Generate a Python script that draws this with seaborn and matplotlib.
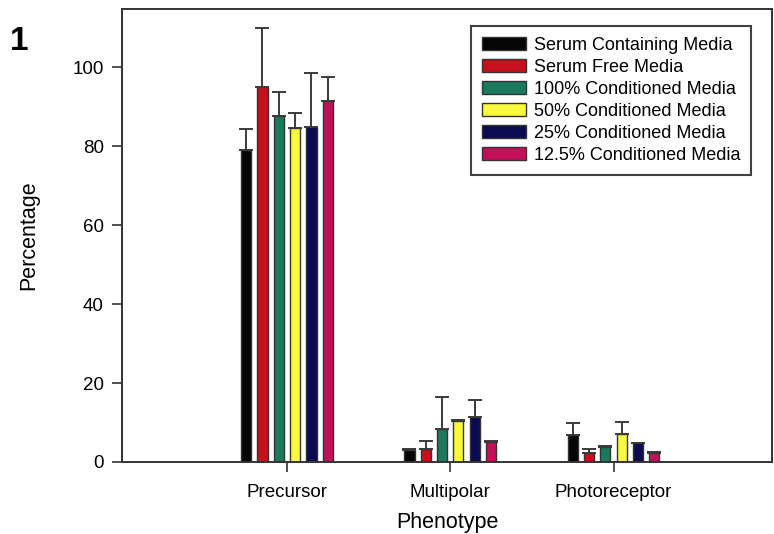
import numpy as np
import pandas as pd
import matplotlib
matplotlib.use("Agg")
import matplotlib.pyplot as plt
import seaborn as sns

phenotypes = ["Precursor", "Multipolar", "Photoreceptor"]
media = [
    "Serum Containing Media",
    "Serum Free Media",
    "100% Conditioned Media",
    "50% Conditioned Media",
    "25% Conditioned Media",
    "12.5% Conditioned Media",
]
# mean percentage per medium, in phenotype order
serum_containing = [79.0, 3.0, 6.8]
serum_free = [95.0, 3.4, 2.4]
cond_100 = [87.5, 8.3, 3.9]
cond_50 = [84.5, 10.3, 7.1]
cond_25 = [84.8, 11.3, 4.7]
cond_12_5 = [91.5, 5.0, 2.3]
# standard deviation (upper error bar)
err_serum_containing = [5.2, 0.3, 3.0]
err_serum_free = [15.0, 1.9, 1.0]
err_cond_100 = [6.1, 8.1, 0.2]
err_cond_50 = [3.8, 0.3, 3.1]
err_cond_25 = [13.7, 4.4, 0.2]
err_cond_12_5 = [6.0, 0.3, 0.2]

means = [serum_containing, serum_free, cond_100, cond_50, cond_25, cond_12_5]
errors = [err_serum_containing, err_serum_free, err_cond_100,
          err_cond_50, err_cond_25, err_cond_12_5]
colors = ["#050505", "#c8101c", "#1b7a5e", "#fafa3c", "#0b0b50", "#c41058"]

rows = []
for m, vals, errs in zip(media, means, errors):
    for p, v, e in zip(phenotypes, vals, errs):
        rows.append({"Phenotype": p, "Medium": m, "Percentage": v, "SD": e})
df = pd.DataFrame(rows)

sns.set_theme(style="ticks")
plt.rcParams["font.family"] = ["Liberation Sans", "DejaVu Sans"]
plt.rcParams["text.color"] = "black"
plt.rcParams["axes.labelcolor"] = "black"
plt.rcParams["xtick.color"] = "black"
plt.rcParams["ytick.color"] = "black"

fig = plt.figure(figsize=(7.74, 5.34), dpi=100)
ax = fig.add_axes([122 / 774, 1 - 462 / 534, 650 / 774, 453 / 534])

sns.barplot(data=df, x="Phenotype", y="Percentage", hue="Medium",
            order=phenotypes, hue_order=media, palette=colors,
            errorbar=None, width=0.6, gap=0.38, saturation=1,
            edgecolor="#333333", linewidth=1.0, ax=ax)

# upper-only error bars on each bar
for container, m in zip(ax.containers, media):
    sub = df[df["Medium"] == m].set_index("Phenotype")
    for bar, p in zip(container, phenotypes):
        x = bar.get_x() + bar.get_width() / 2
        y = bar.get_height()
        ax.errorbar(x, y, yerr=[[0], [sub.loc[p, "SD"]]], fmt="none",
                    ecolor="#3a3a3a", elinewidth=1.4, capsize=5,
                    capthick=1.4, zorder=1)

ax.set_xlim(-1.01, 2.97)
ax.set_ylim(0, 114.7)
ax.set_yticks([0, 20, 40, 60, 80, 100])

for side in ["left", "right", "top", "bottom"]:
    ax.spines[side].set_visible(True)
    ax.spines[side].set_color("#333333")
    ax.spines[side].set_linewidth(1.4)

ax.tick_params(axis="y", direction="out", length=7, width=1.2,
               color="#333333", labelcolor="black", labelsize=13.5, pad=6)
ax.tick_params(axis="x", direction="out", length=7, width=1.2,
               color="#333333", labelcolor="black", labelsize=13.5, pad=9)

ax.set_xlabel("Phenotype", fontsize=15.5, labelpad=8, color="black")
ax.set_ylabel("Percentage", fontsize=15.5, labelpad=24, color="black")

handles, labels = ax.get_legend_handles_labels()
leg = ax.legend(handles, labels, loc="upper right",
                bbox_to_anchor=(0.9677, 0.9625), borderaxespad=0,
                fontsize=13, frameon=True, fancybox=False,
                handlelength=2.4, handleheight=0.75, handletextpad=0.45,
                labelspacing=0.28, borderpad=0.6)
leg.get_frame().set_edgecolor("#111111")
leg.get_frame().set_linewidth(1.5)
for t in leg.get_texts():
    t.set_color("black")

fig.text(10 / 774, 1 - 42 / 534, "1", fontsize=24, fontweight="bold",
         ha="left", va="center", color="black")

fig.savefig("out.png", dpi=100)
